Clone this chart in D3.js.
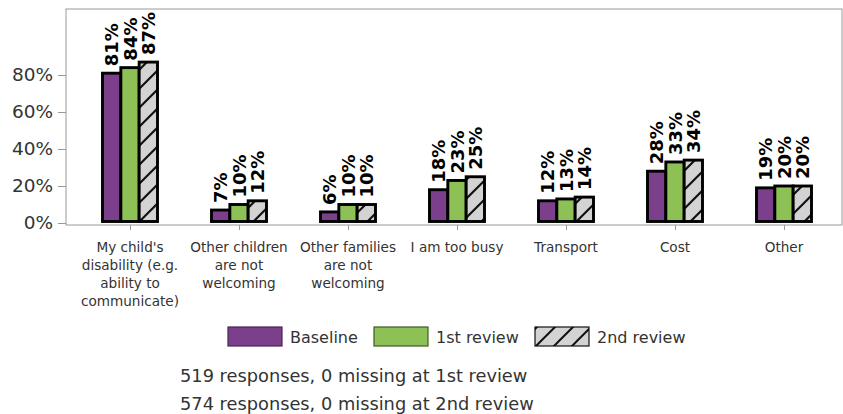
<!DOCTYPE html>
<html><head><meta charset="utf-8">
<script src="https://cdn.jsdelivr.net/npm/d3@7"></script>
<style>
html,body{margin:0;padding:0;background:#fff;}
svg text{font-family:"DejaVu Sans",sans-serif;}
</style></head>
<body>
<svg id="chart" width="843" height="414"></svg>
<script>
const categories = [
  "My child's\ndisability (e.g.\nability to\ncommunicate)",
  "Other children\nare not\nwelcoming",
  "Other families\nare not\nwelcoming",
  "I am too busy",
  "Transport",
  "Cost",
  "Other"
];
const seriesNames = ["Baseline", "1st review", "2nd review"];
const baseline = [81, 7, 6, 18, 12, 28, 19];
const review1 = [84, 10, 10, 23, 13, 33, 20];
const review2 = [87, 12, 10, 25, 14, 34, 20];
const yTicks = [0, 20, 40, 60, 80];
const footnotes = [
  "519 responses, 0 missing at 1st review",
  "574 responses, 0 missing at 2nd review"
];

const series = [baseline, review1, review2];
const fills = ["#7b3f8b", "#8dc156", "url(#hatch)"];
const legendFills = ["#7b3f8b", "#8dc156", "url(#hatchL)"];
const legendStroke = ["#4a2456", "#3e5a25", "#111"];

const svg = d3.select("#chart");
const defs = svg.append("defs");
function hatch(id, size, sw) {
  const p = defs.append("pattern").attr("id", id)
    .attr("patternUnits", "userSpaceOnUse")
    .attr("width", size).attr("height", size);
  p.append("rect").attr("width", size).attr("height", size).attr("fill", "#d3d3d3");
  p.append("path")
    .attr("d", `M0,${size} L${size},0 M-${size/2},${size/2} L${size/2},-${size/2} M${size/2},${size*1.5} L${size*1.5},${size/2}`)
    .attr("stroke", "#111").attr("stroke-width", sw);
}
hatch("hatch", 19, 2.2);
hatch("hatchL", 18, 2);

const frame = {left: 66, right: 842, top: 9, bottom: 225};
const y = d3.scaleLinear().domain([0, 115.7]).range([223, frame.top]);
const x = d3.scalePoint().domain(d3.range(categories.length)).range([130, 784]);
const xSub = d3.scaleBand().domain(d3.range(series.length)).range([-27.5, 27.5]);

// frame
svg.append("rect")
  .attr("x", frame.left).attr("y", frame.top)
  .attr("width", frame.right - frame.left).attr("height", frame.bottom - frame.top)
  .attr("fill", "none").attr("stroke", "#999").attr("stroke-width", 1);

// y axis
const yAxis = d3.axisLeft(y).tickValues(yTicks).tickFormat(d => d + "%").tickSize(8).tickPadding(5);
const gy = svg.append("g").attr("transform", `translate(${frame.left},0)`).call(yAxis);
gy.select(".domain").remove();
gy.selectAll(".tick line").attr("stroke", "#999");
gy.selectAll(".tick text").attr("fill", "#333").style("font-size", "18.5px")
  .style("font-family", "DejaVu Sans");

// x axis ticks
const xAxis = d3.axisBottom(x).tickSize(5).tickFormat("");
const gx = svg.append("g").attr("transform", `translate(0,${frame.bottom})`).call(xAxis);
gx.select(".domain").remove();
gx.selectAll(".tick line").attr("stroke", "#999");

// category labels
categories.forEach((c, i) => {
  const t = svg.append("text").attr("text-anchor", "middle")
    .attr("fill", "#333").style("font-size", "13.6px");
  c.split("\n").forEach((line, j) => {
    t.append("tspan").attr("x", x(i)).attr("y", 252 + j * 18).text(line);
  });
});

// bars
series.forEach((vals, s) => {
  const g = svg.append("g");
  g.selectAll("rect").data(vals).join("rect")
    .attr("x", (d, i) => x(i) + xSub(s))
    .attr("width", xSub.bandwidth())
    .attr("y", d => y(d))
    .attr("height", d => y(0) - 1.5 - y(d))
    .attr("fill", fills[s])
    .attr("stroke", "#000").attr("stroke-width", 2.9);
  g.selectAll("text").data(vals).join("text")
    .attr("transform", (d, i) => `translate(${x(i) + xSub(s) + xSub.bandwidth() / 2 + 6.5},${y(d) - 7}) rotate(-90)`)
    .attr("text-anchor", "start")
    .attr("fill", "#000")
    .style("font-size", "18px").style("font-weight", "bold")
    .text(d => d + "%");
});

// legend
const legendX = [228, 374, 535];
seriesNames.forEach((n, s) => {
  svg.append("rect").attr("x", legendX[s]).attr("y", 327).attr("width", 54).attr("height", 19)
    .attr("fill", legendFills[s]).attr("stroke", legendStroke[s]).attr("stroke-width", 1.2);
  svg.append("text").attr("x", legendX[s] + 62).attr("y", 343)
    .attr("fill", "#333").style("font-size", "16px").text(n);
});

// footnotes
footnotes.forEach((f, i) => {
  svg.append("text").attr("x", 180).attr("y", 382 + i * 28)
    .attr("fill", "#333").style("font-size", "17.8px").text(f);
});
</script>
</body></html>
